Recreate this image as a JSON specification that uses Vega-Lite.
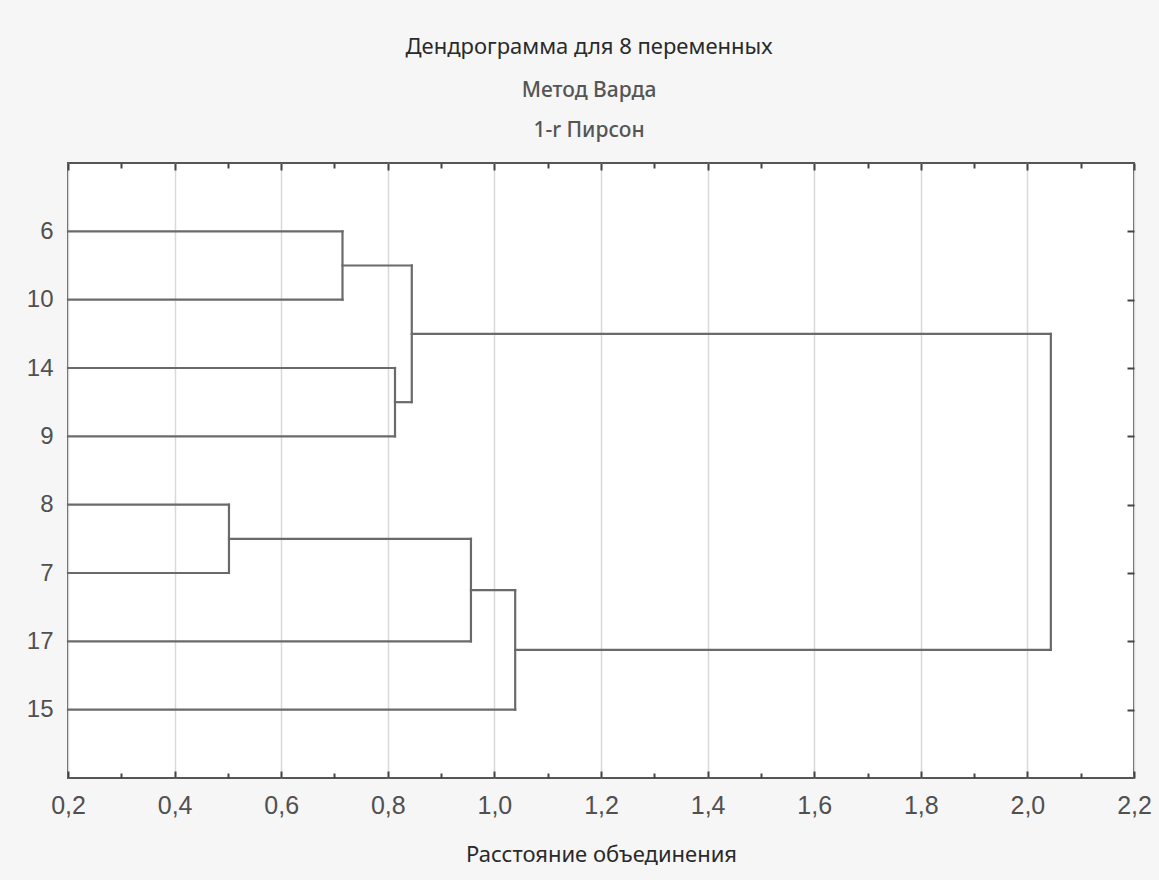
{
  "$schema": "https://vega.github.io/schema/vega-lite/v6.json",
  "width": 1066,
  "height": 615,
  "autosize": "none",
  "padding": {"left": 68, "top": 163, "right": 25, "bottom": 102},
  "background": "#f6f6f6",
  "config": {
    "view": {"fill": "white", "stroke": "#555", "strokeWidth": 2},
    "font": "Liberation Sans"
  },
  "title": {
    "text": "Дендрограмма для 8 переменных",
    "subtitle": ["Метод Варда", "1-r Пирсон"],
    "anchor": "middle",
    "dx": -12,
    "font": "Noto Sans",
    "fontSize": 22,
    "fontWeight": "normal",
    "color": "#2a2a2a",
    "subtitleFont": "Noto Sans",
    "subtitleFontSize": 21,
    "subtitleColor": "#555",
    "subtitleFontWeight": 500,
    "subtitleLineHeight": 40,
    "subtitlePadding": 21,
    "offset": 20
  },
  "data": {
    "values": [
      {"x": 0.2, "x2": 0.715, "y": 1, "y2": 1},
      {"x": 0.2, "x2": 0.715, "y": 2, "y2": 2},
      {"x": 0.2, "x2": 0.8135, "y": 3, "y2": 3},
      {"x": 0.2, "x2": 0.8135, "y": 4, "y2": 4},
      {"x": 0.2, "x2": 0.502, "y": 5, "y2": 5},
      {"x": 0.2, "x2": 0.502, "y": 6, "y2": 6},
      {"x": 0.2, "x2": 0.956, "y": 7, "y2": 7},
      {"x": 0.2, "x2": 1.039, "y": 8, "y2": 8},
      {"x": 0.715, "x2": 0.715, "y": 1, "y2": 2},
      {"x": 0.8135, "x2": 0.8135, "y": 3, "y2": 4},
      {"x": 0.845, "x2": 0.845, "y": 1.5, "y2": 3.5},
      {"x": 0.502, "x2": 0.502, "y": 5, "y2": 6},
      {"x": 0.956, "x2": 0.956, "y": 5.5, "y2": 7},
      {"x": 1.039, "x2": 1.039, "y": 6.25, "y2": 8},
      {"x": 2.044, "x2": 2.044, "y": 2.5, "y2": 7.125},
      {"x": 0.715, "x2": 0.845, "y": 1.5, "y2": 1.5},
      {"x": 0.8135, "x2": 0.845, "y": 3.5, "y2": 3.5},
      {"x": 0.502, "x2": 0.956, "y": 5.5, "y2": 5.5},
      {"x": 0.956, "x2": 1.039, "y": 6.25, "y2": 6.25},
      {"x": 0.845, "x2": 2.044, "y": 2.5, "y2": 2.5},
      {"x": 1.039, "x2": 2.044, "y": 7.125, "y2": 7.125}
    ]
  },
  "layer": [
    {
      "mark": {"type": "rule", "color": "#6a6a6a", "strokeWidth": 2.2, "strokeCap": "square"},
      "encoding": {
        "x": {
          "field": "x",
          "type": "quantitative",
          "scale": {"domain": [0.2, 2.2], "nice": false, "zero": false},
          "axis": {
            "orient": "bottom",
            "values": [0.2, 0.3, 0.4, 0.5, 0.6, 0.7, 0.8, 0.9, 1.0, 1.1, 1.2, 1.3, 1.4, 1.5, 1.6, 1.7, 1.8, 1.9, 2.0, 2.1, 2.2],
            "labelExpr": "round(datum.value*10)%2==0 ? replace(format(datum.value,'.1f'),'.',',') : ''",
            "labelOverlap": false,
            "labelFlush": false,
            "labelBound": false,
            "labelFont": "Liberation Sans",
            "labelFontSize": 25,
            "labelFontWeight": "normal",
            "labelColor": "#505050",
            "labelPadding": 22,
            "tickSize": {"condition": {"test": "round(datum.value*10)%2==0", "value": -7}, "value": -5},
            "tickColor": "#444",
            "tickWidth": 2,
            "grid": true,
            "gridColor": "#d9d9d9",
            "gridWidth": 1.5,
            "gridOpacity": {"condition": {"test": "round(datum.value*10)%2==0", "value": 1}, "value": 0},
            "domain": false,
            "title": "Расстояние объединения",
            "titleFont": "Noto Sans",
            "titleFontSize": 22,
            "titleFontWeight": "normal",
            "titleColor": "#2a2a2a",
            "titlePadding": 24
          }
        },
        "x2": {"field": "x2"},
        "y": {
          "field": "y",
          "type": "quantitative",
          "scale": {"domain": [0, 9], "reverse": true, "nice": false, "zero": false},
          "axis": {
            "orient": "left",
            "values": [1, 2, 3, 4, 5, 6, 7, 8],
            "labelExpr": "['','6','10','14','9','8','7','17','15'][datum.value]",
            "labelFont": "Liberation Sans",
            "labelFontSize": 24,
            "labelFontWeight": "normal",
            "labelColor": "#505050",
            "labelPadding": 15,
            "ticks": false,
            "grid": false,
            "domain": false,
            "title": null
          }
        },
        "y2": {"field": "y2"}
      }
    },
    {
      "mark": {"type": "rule", "opacity": 0},
      "encoding": {
        "x": {
          "field": "x",
          "type": "quantitative",
          "axis": {
            "orient": "top",
            "values": [0.2, 0.3, 0.4, 0.5, 0.6, 0.7, 0.8, 0.9, 1.0, 1.1, 1.2, 1.3, 1.4, 1.5, 1.6, 1.7, 1.8, 1.9, 2.0, 2.1, 2.2],
            "labels": false,
            "tickSize": {"condition": {"test": "round(datum.value*10)%2==0", "value": -7}, "value": -5},
            "tickColor": "#444",
            "tickWidth": 2,
            "grid": false,
            "domain": false,
            "title": null
          }
        },
        "x2": {"field": "x2"},
        "y": {
          "field": "y",
          "type": "quantitative",
          "axis": {
            "orient": "right",
            "values": [1, 2, 3, 4, 5, 6, 7, 8],
            "labels": false,
            "tickSize": -7,
            "tickColor": "#444",
            "tickWidth": 2,
            "grid": false,
            "domain": false,
            "title": null
          }
        },
        "y2": {"field": "y2"}
      }
    }
  ],
  "resolve": {"axis": {"x": "independent", "y": "independent"}}
}
